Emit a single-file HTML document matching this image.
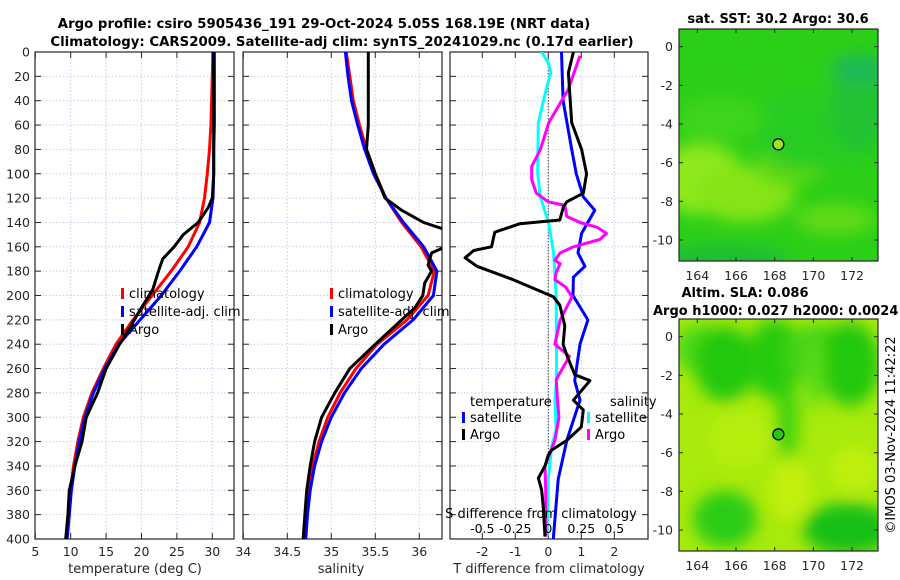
<!DOCTYPE html>
<html><head><meta charset="utf-8">
<style>
html,body{margin:0;padding:0;background:#fff;}
svg{display:block;font-family:"DejaVu Sans","Liberation Sans",sans-serif;}
</style></head>
<body>
<svg id="chart" width="900" height="580" viewBox="0 0 900 580" xmlns="http://www.w3.org/2000/svg">
<defs>
<filter id="blur1" x="-20%" y="-20%" width="140%" height="140%"><feGaussianBlur stdDeviation="8"/></filter>
<clipPath id="clipTop"><rect x="679" y="29" width="199" height="232"/></clipPath>
<clipPath id="clipBot"><rect x="679" y="319" width="199" height="232"/></clipPath>
<clipPath id="clipP1"><rect x="35" y="52" width="199" height="487"/></clipPath>
<clipPath id="clipP2"><rect x="243" y="52" width="199" height="487"/></clipPath>
<clipPath id="clipP3"><rect x="450" y="52" width="198" height="487"/></clipPath>
</defs>
<g id="layer"></g>
</svg>
<script>
// ---------- data ----------
const depthGrid = [0,20,40,60,80,100,120,140,160,180,200,220,240,260,280,300,320,340,360,380,400];
const tempClim = [30.1,30.0,29.9,29.8,29.6,29.3,28.9,28.2,26.6,24.2,21.5,18.8,16.4,14.6,13.0,11.8,11.0,10.4,10.0,9.7,9.4];
const tempSat  = [30.3,30.3,30.3,30.3,30.2,30.2,30.1,29.6,27.8,25.4,22.8,19.8,16.8,14.8,13.2,12.0,11.2,10.6,10.1,9.8,9.5];
const argoTempDepth = [0,20,60,100,120,128,140,150,160,170,180,195,210,230,240,260,280,300,320,340,360,380,400];
const argoTemp      = [30.1,30.2,30.2,30.2,30.0,29.4,28.0,25.9,24.6,23.0,22.4,21.6,20.0,18.0,16.9,15.0,13.8,12.2,11.6,10.6,9.8,9.6,9.3];
const salClim = [35.17,35.21,35.25,35.32,35.40,35.50,35.62,35.80,36.02,36.17,36.10,35.86,35.52,35.28,35.10,34.96,34.86,34.79,34.74,34.71,34.69];
const salSat  = [35.16,35.19,35.23,35.30,35.38,35.48,35.62,35.82,36.05,36.20,36.16,35.93,35.60,35.34,35.15,35.00,34.89,34.81,34.76,34.73,34.71];
const argoSalDepth = [0,60,80,100,120,130,140,146,160,165,175,180,190,200,210,220,240,260,280,300,320,340,360,380,400];
const argoSal      = [35.42,35.42,35.40,35.50,35.61,35.80,36.05,36.3,36.3,36.14,36.10,36.14,36.06,36.04,35.95,35.80,35.50,35.21,35.04,34.89,34.81,34.76,34.72,34.70,34.68];
const dTsatDepth = [0,40,80,100,119,130,149,165,176,185,200,220,240,270,286,319,351,400];
const dTsat      = [0.40,0.45,0.71,0.85,1.06,1.41,1.01,0.90,1.11,0.76,0.75,1.20,0.96,0.80,0.96,0.56,0.30,0.15];
const dTargoDepth = [0,17,58,80,100,116,123,127,138,141,148,160,163,169,176,187,201,208,225,240,249,265,270,286,294,308,319,327,331,340,350,360,374,398];
const dTargo      = [0.76,0.61,0.71,1.01,1.16,1.06,0.56,0.46,0.35,-0.86,-1.62,-1.72,-2.26,-2.52,-2.16,-1.06,0.15,0.35,0.50,0.45,0.56,0.80,1.26,0.76,1.06,1.00,0.56,0.10,0.00,-0.10,-0.30,-0.20,-0.15,-0.10];
const dSsatDepth = [0,9,17,28,58,100,119,141,165,201,269,286,310,324,351,398];
const dSsat      = [-0.05,0,0.02,-0.01,-0.076,-0.08,-0.06,0.004,0.04,0.06,0.063,0.05,0.06,0.025,0,-0.01];
const dSargoDepth = [3,31,58,80,94,105,116,123,126,135,140,144,149,154,160,165,171,174,181,187,193,201,220,240,250,269,286,300,319,333,340,360,398];
const dSargo      = [0.24,0.15,0.004,-0.06,-0.126,-0.126,-0.09,0,0.126,0.14,0.24,0.37,0.44,0.39,0.19,0.09,0.05,0.09,0.06,0.05,0.13,0.18,0.09,0.05,0.16,0.06,0.07,0.08,0.05,0,-0.025,-0.02,-0.02];
const depthTicks = [0,20,40,60,80,100,120,140,160,180,200,220,240,260,280,300,320,340,360,380,400];
const tempTicks = [5,10,15,20,25,30];
const salTicks = [34,34.5,35,35.5,36];
const dTTicks = [-2,-1,0,1,2];
const dSTicks = [-0.5,-0.25,0,0.25,0.5];
const lonTicks = [164,166,168,170,172];
const latTicks = [0,-2,-4,-6,-8,-10];
const argoLon = 168.19, argoLat = -5.05;

// ---------- scales ----------
const yD = d => 52 + d*(487/400);
const xT = t => 35.3 + (t-5)*7.08;
const xS = s => 243.3 + (s-34)*88;
const xdT = v => 548.3 + v*33;
const xdS = v => 548.3 + v*132;
const mapX = lon => 697.3 + (lon-164)*19.35;
const mapYTop = lat => 46.7 - lat*19.33;
const mapYBot = lat => 336.7 - lat*19.33;

const NS = "http://www.w3.org/2000/svg";
const layer = document.getElementById('layer');
function mk(tag, attrs, parent){ const e=document.createElementNS(NS,tag); for(const k in attrs) e.setAttribute(k,attrs[k]); (parent||layer).appendChild(e); return e; }
function txt(x,y,s,attrs,parent){ const e=mk('text',Object.assign({x:x,y:y,'font-size':12.5,fill:'#262626'},attrs||{}),parent); e.textContent=s; return e; }

function panel(x0,w,name,xs,ticks,fmt,showY){
  const g = mk('g',{});
  
  
  depthTicks.forEach(d=>{ if(d>0&&d<400) mk('line',{x1:x0,x2:x0+w,y1:yD(d),y2:yD(d),stroke:'#c8cde8','stroke-width':1,'stroke-dasharray':'1.5,2'},g); });
  ticks.forEach(t=>{ const x=xs(t); if(x>x0+1&&x<x0+w-1) mk('line',{x1:x,x2:x,y1:52,y2:539,stroke:'#c8cde8','stroke-width':1,'stroke-dasharray':'1.5,2'},g); });
  depthTicks.forEach(d=>{ mk('line',{x1:x0,x2:x0+6,y1:yD(d),y2:yD(d),stroke:'#262626'},g); mk('line',{x1:x0+w-6,x2:x0+w,y1:yD(d),y2:yD(d),stroke:'#262626'},g); });
  ticks.forEach(t=>{ const x=xs(t); mk('line',{x1:x,x2:x,y1:539,y2:533,stroke:'#262626'},g); mk('line',{x1:x,x2:x,y1:52,y2:58,stroke:'#262626'},g);
    const lab=txt(x,556,fmt(t),{'text-anchor':'middle'},g);
      });
  if(showY){ depthTicks.forEach(d=>{ const lab=txt(30,yD(d)+4.5,String(d),{'text-anchor':'end'},g);
      }); }
  mk('rect',{x:x0,y:52,width:w,height:487,fill:'none',stroke:'#262626','stroke-width':1.2},g);
  return g;
}
function line(xs,xv,dv,color,clip,name,w){
  const pts = xv.map((v,i)=>xs(v).toFixed(1)+','+yD(dv[i]).toFixed(1)).join(' ');
  const e = mk('polyline',{points:pts,fill:'none',stroke:color,'stroke-width':w||3,'stroke-linejoin':'round','clip-path':'url(#'+clip+')'});
  
  
  return e;
}
function legendEntry(x,y,color,label,name){
  const g=mk('g',{});
  
  
  mk('rect',{x:x,y:y-10,width:3,height:11,fill:color},g);
  txt(x+8,y,label,{'font-size':13,fill:'#000'},g);
}

// Titles
const t1=txt(324,28,'Argo profile: csiro 5905436_191 29-Oct-2024 5.05S 168.19E (NRT data)',{'text-anchor':'middle','font-weight':'bold','font-size':13.3,fill:'#000'});
 
const t2=txt(342,46,'Climatology: CARS2009. Satellite-adj clim: synTS_20241029.nc (0.17d earlier)',{'text-anchor':'middle','font-weight':'bold','font-size':13.3,fill:'#000'});
 

// Panel 1 temperature
panel(35,199,'temperature-panel',xT,tempTicks,t=>String(t),true);
line(xT,tempClim,depthGrid,'#ff0000','clipP1','temp-climatology-line');
line(xT,tempSat,depthGrid,'#0000ff','clipP1','temp-satellite-line');
line(xT,argoTemp,argoTempDepth,'#000000','clipP1','temp-argo-line');
const xl1=txt(135,573,'temperature (deg C)',{'text-anchor':'middle','font-size':13});
 
legendEntry(121,298,'#ff0000','climatology','legend-climatology');
legendEntry(121,316,'#0000ff','satellite-adj. clim','legend-satellite-adj');
legendEntry(121,334,'#000000','Argo','legend-argo');

// Panel 2 salinity
panel(243,199,'salinity-panel',xS,salTicks,t=>String(t),false);
line(xS,salClim,depthGrid,'#ff0000','clipP2','sal-climatology-line');
line(xS,salSat,depthGrid,'#0000ff','clipP2','sal-satellite-line');
line(xS,argoSal,argoSalDepth,'#000000','clipP2','sal-argo-line');
const xl2=txt(341,573,'salinity',{'text-anchor':'middle','font-size':13});
 
legendEntry(330,298,'#ff0000','climatology','legend-climatology-2');
legendEntry(330,316,'#0000ff','satellite-adj. clim','legend-satellite-adj-2');
legendEntry(330,334,'#000000','Argo','legend-argo-2');

// Panel 3 differences
panel(450,198,'difference-panel',xdT,dTTicks,t=>String(t),false);
mk('line',{x1:xdT(0),x2:xdT(0),y1:52,y2:539,stroke:'#444','stroke-width':1,'stroke-dasharray':'1.5,1.5'});
line(xdS,dSsat,dSsatDepth,'#00ffff','clipP3','sal-diff-satellite-line');
line(xdT,dTsat,dTsatDepth,'#0000ff','clipP3','temp-diff-satellite-line');
line(xdS,dSargo,dSargoDepth,'#ff00ff','clipP3','sal-diff-argo-line');
line(xdT,dTargo,dTargoDepth,'#000000','clipP3','temp-diff-argo-line');
const xl3=txt(549,573,'T difference from climatology',{'text-anchor':'middle','font-size':13});
 
const sl=txt(541,518,'S difference from climatology',{'text-anchor':'middle','font-size':13,fill:'#000'});
 
dSTicks.forEach(v=>{ const l=txt(xdS(v),533,(v===0)?'0':String(v),{'text-anchor':'middle','font-size':12.5,fill:'#000'});
    });
const lt=txt(470,406,'temperature',{'font-size':13,fill:'#000'});
 
legendEntry(462,422,'#0000ff','satellite','legend-temp-satellite');
legendEntry(462,439,'#000000','Argo','legend-temp-argo');
const ls=txt(610,406,'salinity',{'font-size':13,fill:'#000'});
 
legendEntry(587,422,'#00ffff','satellite','legend-sal-satellite');
legendEntry(587,439,'#ff00ff','Argo','legend-sal-argo');

// ---------- maps ----------
function mapFrame(y0,mapY,name,clip,base,blobs,dotFill){
  const g=mk('g',{});
  
  
  mk('rect',{x:679,y:y0,width:199,height:232,fill:base},g);
  const bg=mk('g',{'clip-path':'url(#'+clip+')'},g);
  const bf=mk('g',{filter:'url(#blur1)'},bg);
  blobs.forEach(b=>mk('ellipse',{cx:b[0],cy:y0+b[1],rx:b[2],ry:b[3],fill:b[4]},bf));
  lonTicks.forEach(l=>{ const x=mapX(l); mk('line',{x1:x,x2:x,y1:y0+232,y2:y0+228,stroke:'#262626'},g); mk('line',{x1:x,x2:x,y1:y0,y2:y0+4,stroke:'#262626'},g);
    const lab=txt(x,y0+251,String(l),{'text-anchor':'middle','font-size':12.5},g);
      });
  latTicks.forEach(l=>{ const y=mapY(l); mk('line',{x1:878,x2:874,y1:y,y2:y,stroke:'#262626'},g); mk('line',{x1:679,x2:683,y1:y,y2:y,stroke:'#262626'},g);
    const lab=txt(673,y+4.5,String(l),{'text-anchor':'end','font-size':12.5},g);
      });
  const c=mk('circle',{cx:mapX(argoLon),cy:mapY(argoLat),r:5.5,fill:dotFill,stroke:'#000','stroke-width':1.3},g);
   
  mk('rect',{x:679,y:y0,width:199,height:232,fill:'none',stroke:'#262626','stroke-width':1.2},g);
}
mapFrame(29,mapYTop,'sst-map','clipTop','#2ccf18',[
  [700,150,45,35,'#8ee81a'],[745,165,50,28,'#86e418'],[790,135,35,22,'#5ad818'],[835,190,40,15,'#60dc18'],
  [810,100,60,40,'#28cc20'],[860,80,30,45,'#20c232'],[720,230,70,14,'#1fbe36'],[860,40,30,14,'#1cb85a'],
  [720,90,45,22,'#3ed41a']],'#9be61a');
mapFrame(319,mapYBot,'sla-map','clipBot','#a8ea0c',[
  [700,30,25,25,'#4cd812'],[725,45,30,38,'#22c810'],[775,40,28,40,'#26ca10'],[820,35,35,30,'#44d412'],[850,45,30,42,'#22c810'],
  [788,100,10,45,'#38d010'],[815,55,10,35,'#5adc12'],[725,200,32,28,'#2ccc12'],[848,210,45,26,'#14c012'],
  [740,120,30,30,'#b6ee10'],[855,150,25,22,'#c0f010'],[790,170,20,30,'#c4f010']],'#22c814');

const mt=txt(778,23,'sat. SST: 30.2 Argo: 30.6',{'text-anchor':'middle','font-weight':'bold','font-size':13,fill:'#000'});
 
const mt2=txt(745,297,'Altim. SLA: 0.086',{'text-anchor':'middle','font-weight':'bold','font-size':13,fill:'#000'});
 
const mt3=txt(653,315,'Argo h1000: 0.027 h2000: 0.0024',{'font-weight':'bold','font-size':13,fill:'#000'});
 
const cr=txt(0,0,'©IMOS 03-Nov-2024 11:42:22',{'text-anchor':'middle','font-size':13,fill:'#000',transform:'translate(895,435) rotate(-90)'});
 
</script>
</body></html>
